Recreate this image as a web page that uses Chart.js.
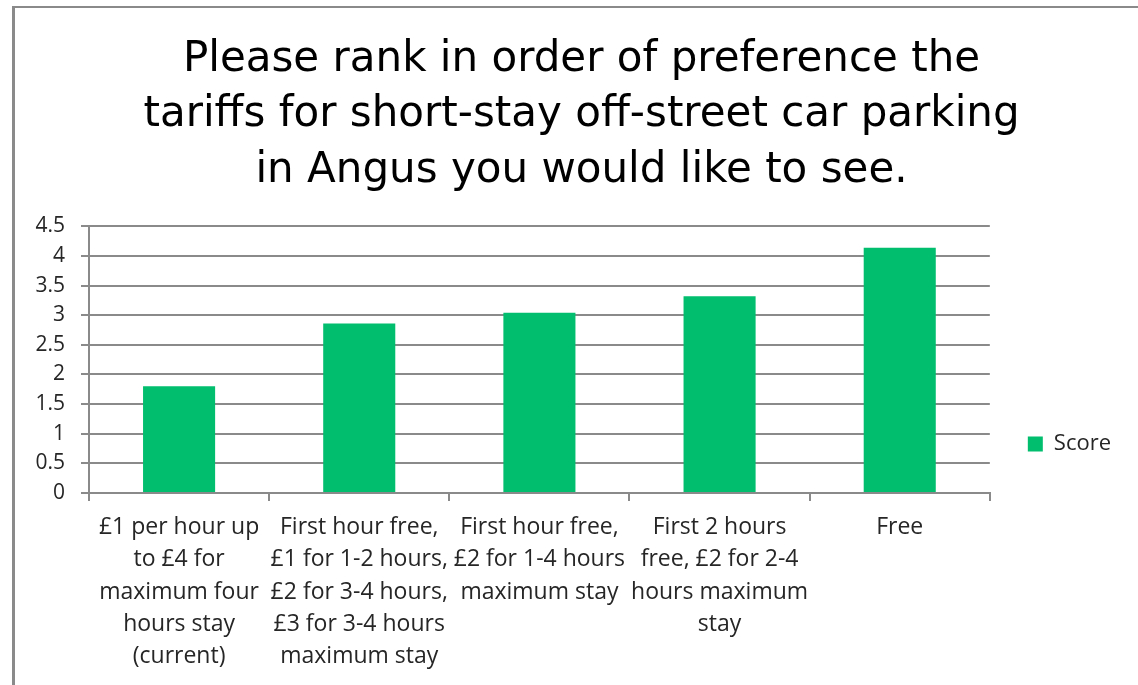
<!DOCTYPE html>
<html>
<head>
<meta charset="utf-8">
<script src="https://cdn.jsdelivr.net/npm/chart.js@4"></script>
<style>
  html, body { margin: 0; padding: 0; background: #fff; overflow: hidden; }
  #wrap { position: relative; width: 1138px; height: 685px; }
  #frame { position: absolute; left: 12px; top: 6px; width: 2000px; height: 2000px;
           border-left: 3px solid #8a8a8a; border-top: 2px solid #8a8a8a; pointer-events: none; }
</style>
</head>
<body>
<div id="wrap">
  <canvas id="c" width="1138" height="685"></canvas>
  <div id="frame"></div>
</div>
<script>
const titleLines = [
  'Please rank in order of preference the',
  'tariffs for short-stay off-street car parking',
  'in Angus you would like to see.'
];
const categories = [
  ['£1 per hour up', 'to £4 for', 'maximum four', 'hours stay', '(current)'],
  ['First hour free,', '£1 for 1-2 hours,', '£2 for 3-4 hours,', '£3 for 3-4 hours', 'maximum stay'],
  ['First hour free,', '£2 for 1-4 hours', 'maximum stay'],
  ['First 2 hours', 'free, £2 for 2-4', 'hours maximum', 'stay'],
  ['Free']
];
const seriesName = 'Score';
const scoreValues = [1.80, 2.86, 3.04, 3.32, 4.14];
const yTickLabels = ['0', '0.5', '1', '1.5', '2', '2.5', '3', '3.5', '4', '4.5'];

const gridColor = '#8a8a8a';
const textColor = '#262626';
const barColor = 'rgb(0,190,110)';
const titleShiftX = 15;

const shiftTitle = {
  id: 'shiftTitle',
  afterLayout(chart) {
    const t = chart.titleBlock;
    if (t) { t.left += titleShiftX; t.right += titleShiftX; }
  }
};

new Chart(document.getElementById('c'), {
  type: 'bar',
  data: {
    labels: categories,
    datasets: [{
      label: seriesName,
      data: scoreValues,
      backgroundColor: barColor,
      borderWidth: 0,
      barPercentage: 0.4,
      categoryPercentage: 1.0
    }]
  },
  plugins: [shiftTitle],
  options: {
    responsive: false,
    animation: false,
    layout: { padding: { left: 12, right: 17, top: 0, bottom: 0 } },
    plugins: {
      title: {
        display: true,
        text: titleLines,
        color: '#000',
        font: { family: 'DejaVu Sans', size: 42, weight: 'normal', lineHeight: 1.32 },
        padding: { top: 32, bottom: 28 }
      },
      legend: {
        position: 'right',
        align: 'end',
        fullSize: false,
        labels: {
          boxWidth: 15,
          boxHeight: 15,
          padding: 38,
          color: textColor,
          font: { family: 'Open Sans', size: 22 }
        }
      },
      tooltip: { enabled: false }
    },
    scales: {
      x: {
        grid: { display: true, drawOnChartArea: false, drawTicks: true, tickLength: 8,
                color: gridColor, lineWidth: 2, offset: true },
        border: { display: true, color: gridColor, width: 2 },
        ticks: {
          color: textColor, padding: 10, maxRotation: 0, autoSkip: false,
          font: { family: 'Open Sans', size: 23, lineHeight: 1.41 }
        },
        afterFit: s => { s.height = 192; }
      },
      y: {
        min: 0, max: 4.5,
        grid: { color: gridColor, lineWidth: 2, tickLength: 8, drawTicks: true },
        border: { display: true, color: gridColor, width: 2 },
        ticks: {
          stepSize: 0.5, color: textColor, padding: 16,
          font: { family: 'Open Sans', size: 21 },
          callback: (v, i) => yTickLabels[i]
        },
        afterFit: s => { s.width = 77; }
      }
    }
  }
});
</script>
</body>
</html>
